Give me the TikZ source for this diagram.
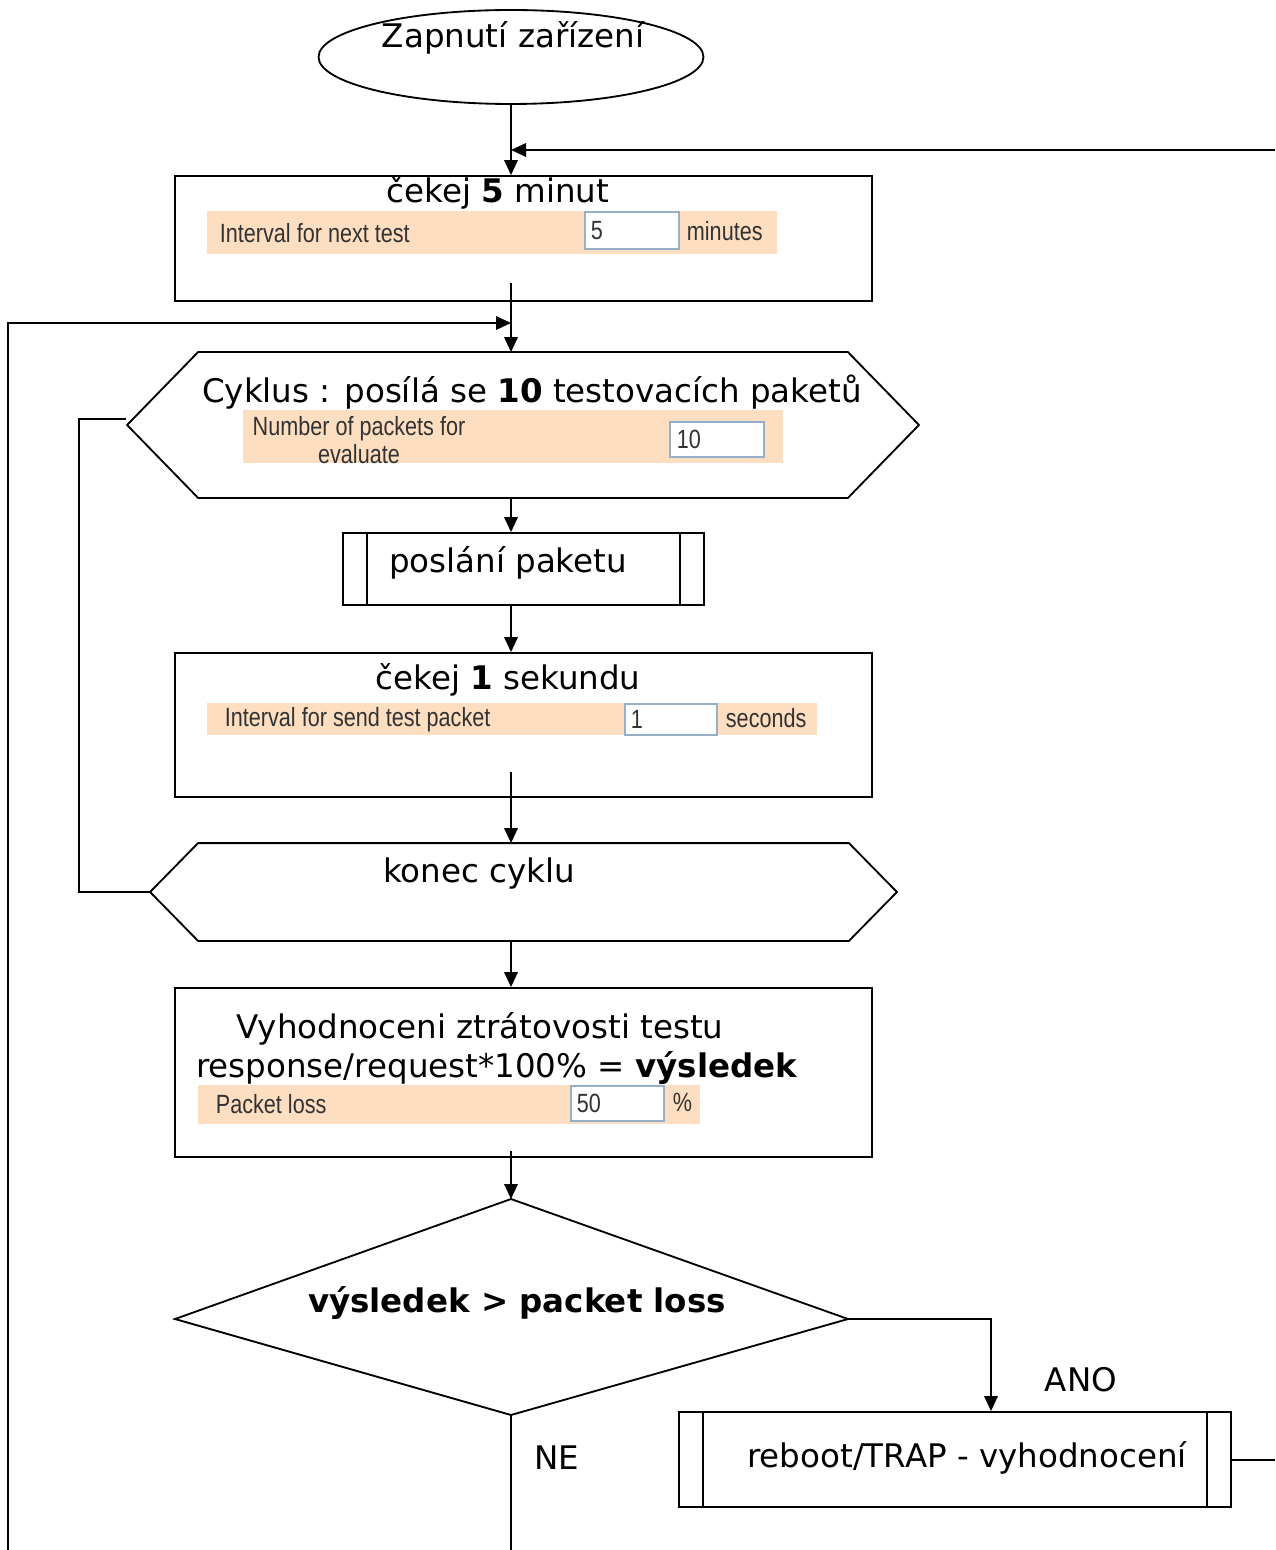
\documentclass[tikz,border=0pt]{standalone}
\usepackage{fontspec}
\setmainfont{DejaVu Sans}
\newfontfamily\formfont[FakeStretch=0.82]{Liberation Sans}
\usetikzlibrary{shapes.geometric,arrows.meta,calc,fit}
\definecolor{formbg}{RGB}{253,222,192}
\definecolor{fieldline}{RGB}{150,175,200}
\definecolor{formtext}{RGB}{50,50,50}

\begin{document}
\begin{tikzpicture}[x=0.02cm,y=-0.02cm,line width=1.05pt,
    box/.style={draw,rectangle,inner sep=0pt},
    predef/.style={box,path picture={
        \draw[line width=0.8pt] ([xshift=0.48cm]path picture bounding box.north west) -- ([xshift=0.48cm]path picture bounding box.south west);
        \draw[line width=0.8pt] ([xshift=-0.48cm]path picture bounding box.north east) -- ([xshift=-0.48cm]path picture bounding box.south east);}},
    txt/.style={font=\fontsize{18.5}{22}\selectfont,inner sep=0pt},
    strip/.style={fill=formbg,inner sep=0pt},
    field/.style={draw=fieldline,fill=white,line width=0.8pt,inner sep=0pt},
    ftxt/.style={font=\formfont\fontsize{15}{17}\selectfont,text=formtext,inner sep=0pt},
    arr/.style={-{Triangle[length=0.3cm,width=0.27cm]},line width=1.15pt},
    ln/.style={line width=1.15pt}]
    \useasboundingbox (0,0) rectangle (1275,1550);
    \coordinate (axis) at (511,0);

    % start
    \node[ellipse,draw,minimum width=7.7cm,minimum height=1.88cm,inner sep=0pt] (start) at (511,57) {};
    \node[txt] (starttxt) at (513,38) {Zapnutí zařízení};

    % wait 5 minutes
    \node[box,fit={(175,176) (872,301)}] (wait5) {};
    \node[txt] (wait5txt) at (498,193) {čekej \textbf{5} minut};
    \node[strip,fit={(207,211) (777,254)}] (strip5) {};
    \node[field,fit={(585,212) (679,249)}] (field5) {};
    \node[ftxt,anchor=west] (lab5) at (219,233) {Interval for next test};
    \node[ftxt,anchor=west] (val5) at (590,231) {5};
    \node[ftxt,anchor=west] (unit5) at (686,231) {minutes};

    % cycle start
    \node[fit={(199,353) (847,497)},inner sep=0pt] (cyc) {};
    \draw (cyc.north west) -- (cyc.north east) -- ($(cyc.east)+(71,0)$) -- (cyc.south east)
        -- (cyc.south west) -- ($(cyc.west)+(-71,0)$) -- cycle;
    \node[txt] (cyctxt) at (532,392) {Cyklus : posílá se \textbf{10} testovacích paketů};
    \node[strip,fit={(243,410) (783,463)}] (stripc) {};
    \node[field,fit={(670,422) (764,457)}] (fieldc) {};
    \node[ftxt,align=center] (labc) at (359,440) {Number of packets for\\[-1pt]evaluate};
    \node[ftxt,anchor=west] (valc) at (676,439) {10};

    % send packet
    \node[predef,fit={(343,533) (704,605)}] (send) {};
    \node[txt] (sendtxt) at (508,563) {poslání paketu};

    % wait 1 second
    \node[box,fit={(175,653) (872,797)}] (wait1) {};
    \node[txt] (wait1txt) at (508,680) {čekej \textbf{1} sekundu};
    \node[strip,fit={(207,703) (817,735)}] (strip1) {};
    \node[field,fit={(625,704) (717,735)}] (field1) {};
    \node[ftxt,anchor=west] (lab1) at (224,720) {Interval for send test packet};
    \node[ftxt,anchor=west] (val1) at (630,719) {1};
    \node[ftxt,anchor=west] (unit1) at (725,718) {seconds};

    % cycle end
    \node[fit={(199,844) (848,940)},inner sep=0pt] (endc) {};
    \draw (endc.north west) -- (endc.north east) -- ($(endc.east)+(48,0)$) -- (endc.south east)
        -- (endc.south west) -- ($(endc.west)+(-48,0)$) -- cycle;
    \node[txt] (endctxt) at (479,874) {konec cyklu};

    % evaluation
    \node[box,fit={(175,988) (872,1157)}] (eval) {};
    \node[txt] (evaltxt) at (480,1029) {Vyhodnoceni ztrátovosti testu};
    \node[txt] (resulttxt) at (497,1068) {response/request*100\% = \textbf{výsledek}};
    \node[strip,fit={(198,1085) (700,1124)}] (stripl) {};
    \node[field,fit={(571,1086) (664,1121)}] (fieldl) {};
    \node[ftxt,anchor=west] (labl) at (215,1104) {Packet loss};
    \node[ftxt,anchor=west] (vall) at (576,1103) {50};
    \node[ftxt,anchor=west] (unitl) at (672,1102) {\%};

    % decision
    \coordinate (dtop) at (511,1199);
    \coordinate (dleft) at (175,1319);
    \coordinate (dright) at (848,1319);
    \coordinate (dbot) at (511,1415);
    \draw (dtop) -- (dright) -- (dbot) -- (dleft) -- cycle;
    \node[txt,font=\fontsize{18.5}{22}\selectfont\bfseries] (dtxt) at (517,1303) {výsledek > packet loss};

    % reboot
    \node[predef,fit={(679,1412) (1231,1507)}] (reboot) {};
    \node[txt] (reboottxt) at (967,1458) {reboot/TRAP - vyhodnocení};
    \node[txt] (ano) at (1081,1380) {ANO};
    \node[txt] (ne) at (557,1458) {NE};

    % connectors
    \coordinate (rtop) at (1275,150);
    \coordinate (rbot) at (1275,1460);
    \coordinate (ltop) at (8,323);
    \coordinate (lbot) at (8,1550);
    \coordinate (nebot) at (511,1550);
    \coordinate (loopx) at (79,0);

    \draw[arr] (axis |- start.south) -- (axis |- wait5.north);
    \draw[arr] (rtop) -- (axis |- rtop);
    \draw[arr] ([yshift=0.38cm]axis |- wait5.south) -- (axis |- cyc.north);
    \draw[arr] (lbot) -- (ltop) -- (axis |- ltop);
    \draw[arr] (axis |- cyc.south) -- (axis |- send.north);
    \draw[arr] (axis |- send.south) -- (axis |- wait1.north);
    \draw[arr] ([yshift=0.52cm]axis |- wait1.south) -- (axis |- endc.north);
    \draw[ln] ($(endc.west)+(-48,0)$) -- (loopx |- endc.west) -- (loopx |- 0,419) -- (126,419);
    \draw[arr] (axis |- endc.south) -- (axis |- eval.north);
    \draw[arr] ([yshift=0.14cm]axis |- eval.south) -- (dtop);
    \draw[arr] (dright) -| (reboot.north -| 991,0);
    \draw[ln] (reboot.east |- rbot) -- (rbot);
    \draw[ln] (dbot) -- (nebot);
\end{tikzpicture}
\end{document}
